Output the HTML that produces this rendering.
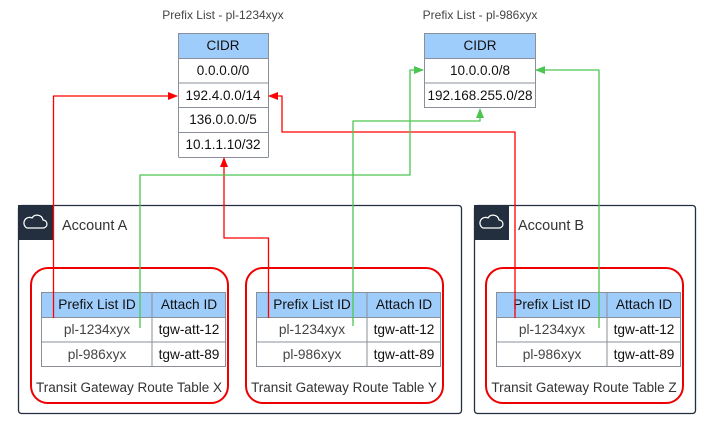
<!DOCTYPE html>
<html><head><meta charset="utf-8"><style>
html,body{margin:0;padding:0;background:#fff;}
svg{display:block;font-family:"Liberation Sans",Arial,sans-serif;}
</style></head><body>
<svg width="717" height="432" viewBox="0 0 717 432" xmlns="http://www.w3.org/2000/svg">
<defs>
<marker id="ar" markerWidth="10" markerHeight="8" refX="9" refY="4" orient="auto" markerUnits="userSpaceOnUse"><path d="M0,0 L10,4 L0,8 Z" fill="#ff0000"/></marker>
<marker id="ag" markerWidth="10" markerHeight="8" refX="9" refY="4" orient="auto" markerUnits="userSpaceOnUse"><path d="M0,0 L10,4 L0,8 Z" fill="#4cc552"/></marker>
</defs>
<text x="223" y="19" font-size="12" fill="#444" text-anchor="middle">Prefix List - pl-1234xyx</text>
<text x="480" y="19" font-size="12" fill="#444" text-anchor="middle">Prefix List - pl-986xyx</text>
<g stroke="#8a8f99" stroke-width="1">
<rect x="178.5" y="33.5" width="90" height="124" fill="#fff" rx="1"/>
<rect x="178.5" y="33.5" width="90" height="25" fill="#9fcdfb"/>
<line x1="178.5" y1="83" x2="268.5" y2="83"/>
<line x1="178.5" y1="107.5" x2="268.5" y2="107.5"/>
<line x1="178.5" y1="132.5" x2="268.5" y2="132.5"/>
</g>
<g font-size="13.5" fill="#111" text-anchor="middle">
<text x="223" y="50">CIDR</text>
<text x="223" y="75">0.0.0.0/0</text>
<text x="223" y="100">192.4.0.0/14</text>
<text x="223" y="124">136.0.0.0/5</text>
<text x="223" y="149">10.1.1.10/32</text>
</g>
<g stroke="#8a8f99" stroke-width="1">
<rect x="424.5" y="33.5" width="111" height="74" fill="#fff"/>
<rect x="424.5" y="33.5" width="111" height="25" fill="#9fcdfb"/>
<line x1="424.5" y1="83" x2="535.5" y2="83"/>
</g>
<g font-size="13.5" fill="#111" text-anchor="middle">
<text x="480" y="50">CIDR</text>
<text x="480" y="75">10.0.0.0/8</text>
<text x="480" y="100">192.168.255.0/28</text>
</g>
<rect x="18.5" y="205.5" width="443" height="208" rx="3" fill="none" stroke="#232f3e" stroke-width="1.3"/>
<rect x="18" y="205" width="35" height="35" fill="#232f3e"/>
<path d="M27,228 h16 a4,4 0 0 0 0,-8 a6,6 0 0 0 -11,-2 a4,4 0 0 0 -5,10 z" fill="none" stroke="#fff" stroke-width="1.2"/>
<text x="62" y="230" font-size="14.5" fill="#333">Account A</text>
<rect x="474.5" y="205.5" width="221" height="208" rx="3" fill="none" stroke="#232f3e" stroke-width="1.3"/>
<rect x="474" y="205" width="35" height="35" fill="#232f3e"/>
<path d="M483,228 h16 a4,4 0 0 0 0,-8 a6,6 0 0 0 -11,-2 a4,4 0 0 0 -5,10 z" fill="none" stroke="#fff" stroke-width="1.2"/>
<text x="518" y="230" font-size="14.5" fill="#333">Account B</text>
<g font-size="13.7" text-anchor="middle">
<rect x="31" y="268" width="197" height="135" rx="17" fill="none" stroke="#ee0000" stroke-width="2"/>
<g stroke="#8a8f99" stroke-width="1">
<rect x="41.5" y="292.5" width="184" height="74" fill="#fff"/>
<rect x="41.5" y="292.5" width="184" height="25" fill="#9fcdfb"/>
<line x1="41.5" y1="342" x2="225.5" y2="342"/><line x1="152" y1="292.5" x2="152" y2="366.5"/>
</g>
<text x="97" y="309" fill="#111">Prefix List ID</text><text x="189" y="309" fill="#111">Attach ID</text>
<text x="97" y="334" fill="#444">pl-1234xyx</text><text x="189" y="334" fill="#111">tgw-att-12</text>
<text x="97" y="359" fill="#444">pl-986xyx</text><text x="189" y="359" fill="#111">tgw-att-89</text>
<text x="129" y="392" fill="#333" font-size="13.5">Transit Gateway Route Table X</text>
<rect x="246" y="268" width="197" height="135" rx="17" fill="none" stroke="#ee0000" stroke-width="2"/>
<g stroke="#8a8f99" stroke-width="1">
<rect x="256.5" y="292.5" width="184" height="74" fill="#fff"/>
<rect x="256.5" y="292.5" width="184" height="25" fill="#9fcdfb"/>
<line x1="256.5" y1="342" x2="440.5" y2="342"/><line x1="367" y1="292.5" x2="367" y2="366.5"/>
</g>
<text x="312" y="309" fill="#111">Prefix List ID</text><text x="404" y="309" fill="#111">Attach ID</text>
<text x="312" y="334" fill="#444">pl-1234xyx</text><text x="404" y="334" fill="#111">tgw-att-12</text>
<text x="312" y="359" fill="#444">pl-986xyx</text><text x="404" y="359" fill="#111">tgw-att-89</text>
<text x="344" y="392" fill="#333" font-size="13.5">Transit Gateway Route Table Y</text>
<rect x="486" y="268" width="197" height="135" rx="17" fill="none" stroke="#ee0000" stroke-width="2"/>
<g stroke="#8a8f99" stroke-width="1">
<rect x="496.5" y="292.5" width="184" height="74" fill="#fff"/>
<rect x="496.5" y="292.5" width="184" height="25" fill="#9fcdfb"/>
<line x1="496.5" y1="342" x2="680.5" y2="342"/><line x1="607" y1="292.5" x2="607" y2="366.5"/>
</g>
<text x="552" y="309" fill="#111">Prefix List ID</text><text x="644" y="309" fill="#111">Attach ID</text>
<text x="552" y="334" fill="#444">pl-1234xyx</text><text x="644" y="334" fill="#111">tgw-att-12</text>
<text x="552" y="359" fill="#444">pl-986xyx</text><text x="644" y="359" fill="#111">tgw-att-89</text>
<text x="584" y="392" fill="#333" font-size="13.5">Transit Gateway Route Table Z</text>
</g>
<g fill="none" stroke-width="1.3" stroke-linejoin="round">
<path d="M53.5,318 V96 H177" stroke="#ff0000" marker-end="url(#ar)"/>
<path d="M268.5,318 V238 H224 V158" stroke="#ff0000" marker-end="url(#ar)"/>
<path d="M515,318 V132 H282 V96 H269" stroke="#ff0000" marker-end="url(#ar)"/>
<path d="M140,328 V175 H410 V70 H423" stroke="#4cc552" marker-end="url(#ag)"/>
<path d="M353,326 V121 H480 V109" stroke="#4cc552" marker-end="url(#ag)"/>
<path d="M599,328 V70 H536" stroke="#4cc552" marker-end="url(#ag)"/>
</g>
</svg>
</body></html>
